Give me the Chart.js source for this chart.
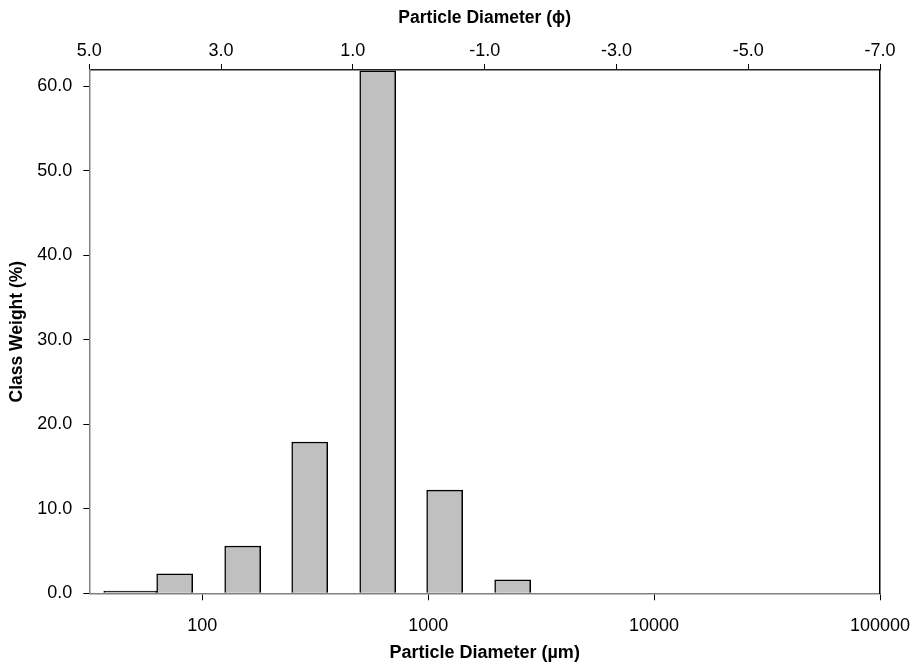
<!DOCTYPE html>
<html>
<head>
<meta charset="utf-8">
<script src="https://cdn.jsdelivr.net/npm/chart.js@4"></script>
<style>
  html, body { margin: 0; padding: 0; background: #fff; }
  #wrap { width: 920px; height: 664px; }
</style>
</head>
<body>
<div id="wrap"><canvas id="grainChart" width="920" height="664"></canvas></div>
<script>
// class mid-diameters (um) and class weights (%)
const panSize = [48];
const panWeight = [0.25];
const classSize = [75.5, 151, 299, 598, 1183, 2366];
const classWeight = [2.3, 5.6, 17.9, 61.8, 12.2, 1.6];

const umTicks = [100, 1000, 10000, 100000];
const weightTicks = [0, 10, 20, 30, 40, 50, 60];

const FONT = "'Liberation Sans', Arial, sans-serif";

const ctx = document.getElementById("grainChart").getContext("2d");

// keep the plot box fixed, labels may hang over the edges
function noSidePad(s) {
    s.paddingLeft = 0;
    s.paddingRight = 0;
}

new Chart(ctx, {
    type: "bar",
    data: {
        datasets: [
            {
                label: "pan",
                data: panSize.map((s, i) => ({ x: s, y: panWeight[i] })),
                backgroundColor: "#c0c0c0",
                borderColor: "#000",
                borderWidth: 1.5,
                barThickness: 53,
                xAxisID: "x",
                yAxisID: "y"
            },
            {
                label: "classes",
                data: classSize.map((s, i) => ({ x: s, y: classWeight[i] })),
                backgroundColor: "#c0c0c0",
                borderColor: "#000",
                borderWidth: 1.5,
                barThickness: 36,
                xAxisID: "x",
                yAxisID: "y"
            }
        ]
    },
    options: {
        responsive: false,
        animation: false,
        grouped: false,
        layout: { padding: 0 },
        plugins: {
            legend: { display: false },
            tooltip: { enabled: false }
        },
        scales: {
            x: {
                type: "logarithmic",
                position: "bottom",
                offset: false,
                min: Math.pow(10, 1.5),
                max: 100000,
                afterBuildTicks: (s) => { s.ticks = umTicks.map(v => ({ value: v })); },
                afterFit: (s) => { s.height = 70.7; noSidePad(s); },
                grid: { offset: false, drawOnChartArea: false, drawTicks: true, tickLength: 7, color: "#000" },
                border: { color: "#808080", width: 1.5 },
                ticks: {
                    color: "#000",
                    font: { family: FONT, size: 18 },
                    padding: 15,
                    maxRotation: 0,
                    autoSkip: false,
                    callback: (v) => String(v)
                },
                title: {
                    display: true,
                    text: "Particle Diameter (µm)",
                    color: "#000",
                    font: { family: FONT, size: 18, weight: "bold" },
                    padding: { top: 0, bottom: 0 }
                }
            },
            x2: {
                type: "linear",
                position: "top",
                offset: false,
                min: -7,
                max: 5,
                reverse: true,
                afterFit: (s) => { s.height = 70; noSidePad(s); },
                grid: { offset: false, drawOnChartArea: false, drawTicks: true, tickLength: 6, color: "#000" },
                border: { color: "#222", width: 1.5 },
                ticks: {
                    stepSize: 2,
                    color: "#000",
                    font: { family: FONT, size: 18 },
                    padding: 2,
                    maxRotation: 0,
                    callback: (v) => Number(v).toFixed(1)
                },
                title: {
                    display: true,
                    text: "Particle Diameter (ϕ)",
                    color: "#000",
                    font: { family: FONT, size: 17.5, weight: "bold" },
                    padding: { top: 8, bottom: 0 }
                }
            },
            y: {
                type: "linear",
                position: "left",
                min: 0,
                max: 61.9,
                afterBuildTicks: (s) => { s.ticks = weightTicks.map(v => ({ value: v })); },
                afterFit: (s) => { s.width = 89.3; },
                grid: { drawOnChartArea: false, drawTicks: true, tickLength: 6, color: "#000" },
                border: { color: "#808080", width: 1.5 },
                ticks: {
                    color: "#000",
                    font: { family: FONT, size: 18 },
                    padding: 11,
                    callback: (v) => Number(v).toFixed(1)
                },
                title: {
                    display: true,
                    text: "Class Weight (%)",
                    color: "#000",
                    font: { family: FONT, size: 17.5, weight: "bold" },
                    padding: { top: 7, bottom: 0 }
                }
            },
            y2: {
                type: "linear",
                position: "right",
                min: 0,
                max: 61.9,
                afterFit: (s) => { s.width = 40; },
                grid: { drawOnChartArea: false, drawTicks: false },
                border: { color: "#000", width: 1.5 },
                ticks: { display: false }
            }
        }
    }
});
</script>
</body>
</html>
